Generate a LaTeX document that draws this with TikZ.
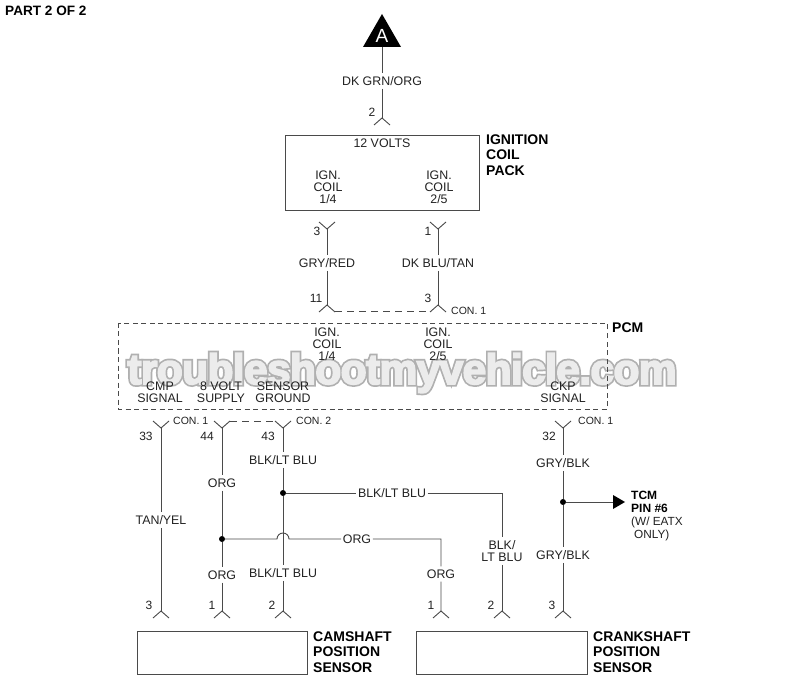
\documentclass[tikz,border=0pt]{standalone}
\usepackage{fontspec}
\setmainfont{Liberation Sans}
\newfontfamily\fatfont[FakeBold=12,LetterSpace=-1.5]{Liberation Sans Bold}
\newfontfamily\markfont[FakeBold=4,LetterSpace=-1.5]{Liberation Sans Bold}
\definecolor{wirecol}{HTML}{4A4A4A}
\definecolor{inkcol}{HTML}{222222}
\definecolor{markedge}{HTML}{B0B0B0}
\definecolor{markfill}{HTML}{ECECEC}
\tikzset{
  wire/.style={draw=wirecol, line width=0.9pt},
  dashwire/.style={wire, dash pattern=on 7pt off 5pt},
  lab/.style={text=inkcol, inner xsep=1.5pt, inner ysep=3pt, align=center, font=\fontsize{12.4}{12}\selectfont},
  pinnum/.style={text=inkcol, inner sep=0pt, font=\fontsize{12}{12}\selectfont},
  conlab/.style={text=inkcol, inner sep=0pt, anchor=west, font=\fontsize{10.5}{12}\selectfont},
  title/.style={text=black, inner sep=0pt, anchor=west, align=left, font=\fontsize{14}{15.3}\selectfont\bfseries},
  dot/.style={circle, fill=black, inner sep=0pt, minimum size=6pt},
  pinbelow/.pic={\draw[wire] (-8,7) -- (0,0) -- (8,7);},
  pinabove/.pic={\draw[wire] (-8,-7) -- (0,0) -- (8,-7);}
}
\begin{document}
\begin{tikzpicture}[x=1pt, y=-1pt]
  \useasboundingbox (0,0) rectangle (800,700);
  \fill[white] (0,0) rectangle (800,700);
  % watermark
  \node[text=markedge, inner sep=0pt] (markback) at (402,373) {\fontsize{42.5}{44}\fatfont troubleshootmyvehicle.com};
  \node[text=markfill, inner sep=0pt] (markfront) at (402,373) {\fontsize{42.5}{44}\markfont troubleshootmyvehicle.com};
  %
  \node[title, font=\fontsize{13.6}{14}\selectfont\bfseries] (part) at (5,11) {PART 2 OF 2};
  %
  % top triangle
  \fill[black] (382,14) -- (401,47) -- (363,47) -- cycle;
  \node[text=white, inner sep=0pt, font=\fontsize{19}{19}\selectfont] (refA) at (382,36) {A};
  \coordinate (triA) at (382,47);
  \coordinate (p2) at (382,118);
  \node[lab] (lDkGrn) at (382,81) {DK GRN/ORG};
  \draw[wire] (triA) -- (lDkGrn) -- (p2);
  \pic at (p2) {pinbelow};
  \node[pinnum] (n2) at (372,112) {2};
  %
  % ignition coil pack
  \draw[wire] (285,135) rectangle (479,210);
  \node[lab] (lVolts) at (382,143) {12 VOLTS};
  \node[lab] (lCoilA) at (328,187.5) {IGN.\\COIL\\1/4};
  \node[lab] (lCoilB) at (439,187.5) {IGN.\\COIL\\2/5};
  \node[title] (tCoil) at (486,155) {IGNITION\\COIL\\PACK};
  %
  % coil wires
  \coordinate (p3a) at (327,229);
  \coordinate (p1a) at (438,229);
  \coordinate (p11) at (327,305);
  \coordinate (p3b) at (438,305);
  \pic at (p3a) {pinabove};
  \pic at (p1a) {pinabove};
  \pic at (p11) {pinbelow};
  \pic at (p3b) {pinbelow};
  \node[lab] (lGryRed) at (327,263) {GRY/RED};
  \node[lab] (lDkBlu) at (438,263) {DK BLU/TAN};
  \draw[wire] (p3a) -- (lGryRed) -- (p11);
  \draw[wire] (p1a) -- (lDkBlu) -- (p3b);
  \draw[dashwire] (335,311.5) -- (431,311.5);
  \node[pinnum] (n3a) at (317,231) {3};
  \node[pinnum] (n1a) at (428,231) {1};
  \node[pinnum] (n11) at (316,298) {11};
  \node[pinnum] (n3b) at (428,298) {3};
  \node[conlab] (con1a) at (451,311) {CON. 1};
  %
  % pcm
  \draw[wirecol, line width=0.8pt, dash pattern=on 5pt off 3.5pt] (118,323) rectangle (607,409);
  \node[title] (tPcm) at (612,328) {PCM};
  \node[lab] (lPcmA) at (327,344) {IGN.\\COIL\\1/4};
  \node[lab] (lPcmB) at (438,344) {IGN.\\COIL\\2/5};
  \node[lab] (lCmp) at (160,392) {CMP\\SIGNAL};
  \node[lab] (lSupply) at (221,392) {8 VOLT\\SUPPLY};
  \node[lab] (lGround) at (283,392) {SENSOR\\GROUND};
  \node[lab] (lCkp) at (563,392) {CKP\\SIGNAL};
  %
  % pcm pins
  \foreach \pname/\px in {t33/161, t44/222, t43/283, t32/563}{
    \coordinate (\pname) at (\px,428);
    \pic at (\pname) {pinabove};
  }
  \foreach \pname/\px in {b3a/161, b1a/222, b2a/283, b1b/441, b2b/502, b3b/563}{
    \coordinate (\pname) at (\px,611);
    \pic at (\pname) {pinbelow};
  }
  \draw[dashwire] (230,421) -- (275,421);
  \node[conlab] (con1b) at (173,421) {CON. 1};
  \node[conlab] (con2) at (296,421) {CON. 2};
  \node[conlab] (con1c) at (578,421) {CON. 1};
  \node[pinnum] (n33) at (146,436) {33};
  \node[pinnum] (n44) at (207,436) {44};
  \node[pinnum] (n43) at (268,436) {43};
  \node[pinnum] (n32) at (549,436) {32};
  \node[pinnum] (n3c) at (149,605) {3};
  \node[pinnum] (n1c) at (212,605) {1};
  \node[pinnum] (n2c) at (272,605) {2};
  \node[pinnum] (n1d) at (431,605) {1};
  \node[pinnum] (n2d) at (491,605) {2};
  \node[pinnum] (n3d) at (552,605) {3};
  %
  % cmp wire
  \node[lab] (lTan) at (161,520) {TAN/YEL};
  \draw[wire] (t33) -- (lTan) -- (b3a);
  %
  % org wires
  \node[dot] (jOrg) at (222,539) {};
  \node[lab] (lOrgA) at (222,483) {ORG};
  \node[lab] (lOrgB) at (222,575) {ORG};
  \node[lab] (lOrgC) at (357,539) {ORG};
  \node[lab] (lOrgD) at (441,574) {ORG};
  \coordinate (cOrg) at (441,539);
  \coordinate (hopL) at (277,539);
  \draw[wire] (jOrg) -- (hopL) arc[start angle=180, end angle=360, radius=6] -- (lOrgC) -- (cOrg) -- (lOrgD) -- (b1b);
  \draw[wire] (t44) -- (lOrgA) -- (jOrg) -- (lOrgB) -- (b1a);
  %
  % ground wires
  \node[dot] (jGnd) at (283,493) {};
  \node[lab] (lGndA) at (283,460) {BLK/LT BLU};
  \node[lab] (lGndB) at (283,573) {BLK/LT BLU};
  \node[lab] (lGndC) at (392,493) {BLK/LT BLU};
  \node[lab] (lGndD) at (502,551) {BLK/\\LT BLU};
  \coordinate (cGnd) at (502,493);
  \draw[wire] (t43) -- (lGndA) -- (jGnd) -- (lGndB) -- (b2a);
  \draw[wire] (jGnd) -- (lGndC) -- (cGnd) -- (lGndD) -- (b2b);
  %
  % ckp wire
  \node[dot] (jCkp) at (563,502) {};
  \node[lab] (lGryA) at (563,463) {GRY/BLK};
  \node[lab] (lGryB) at (563,555) {GRY/BLK};
  \coordinate (tipTcm) at (613,502);
  \draw[wire] (t32) -- (lGryA) -- (jCkp) -- (lGryB) -- (b3b);
  \draw[wire] (jCkp) -- (tipTcm);
  \fill[black] (613,495) -- (625,502) -- (613,509) -- cycle;
  \node[title, font=\fontsize{12}{13.2}\selectfont\bfseries] (tTcm) at (631,501.5) {TCM\\PIN \#6};
  \node[text=inkcol, inner sep=0pt, anchor=west, align=left, font=\fontsize{11.8}{13}\selectfont] (tEatx) at (631,528.5) {(W/ EATX\\\hspace*{3pt}ONLY)};
  %
  % sensors
  \draw[wire] (137,631) rectangle (307,674);
  \draw[wire] (416,631) rectangle (587,674);
  \node[title] (tCam) at (313,652) {CAMSHAFT\\POSITION\\SENSOR};
  \node[title] (tCrank) at (593,652) {CRANKSHAFT\\POSITION\\SENSOR};
\end{tikzpicture}
\end{document}
